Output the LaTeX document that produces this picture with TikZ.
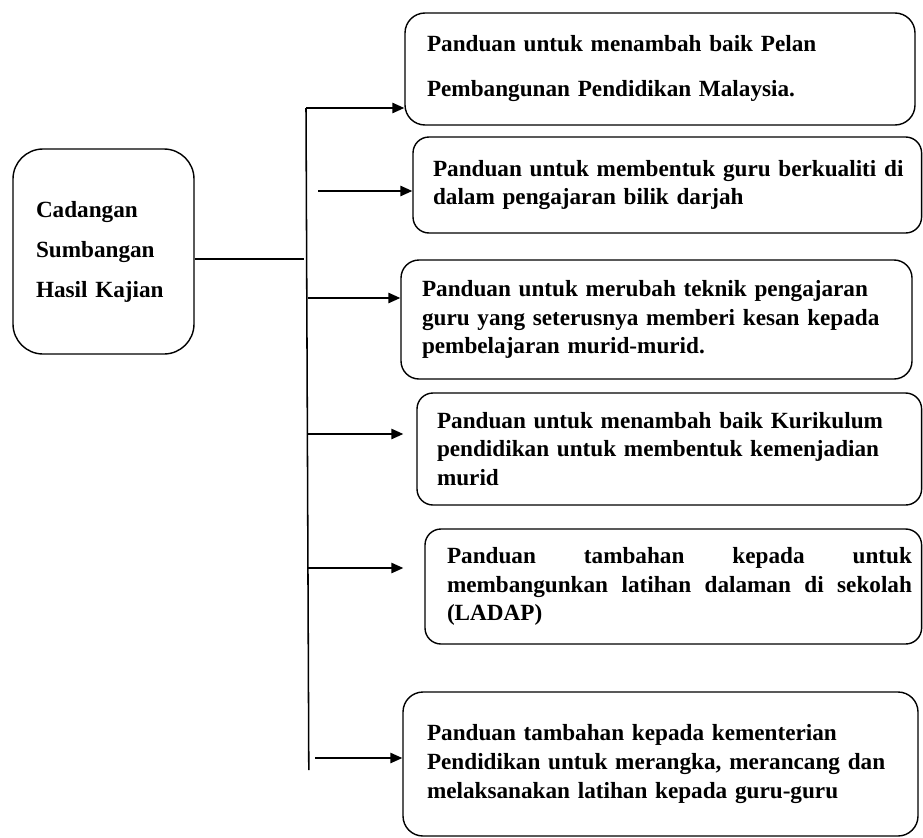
\documentclass[tikz,border=0pt]{standalone}
\usepackage{fontspec}
\setmainfont{Liberation Serif}
\usepackage{tikz}
\usetikzlibrary{arrows.meta,positioning}
\tikzset{
  cbox/.style={draw=black,fill=white,line width=1pt,align=left,inner ysep=0pt},
  carr/.style={-{Triangle[length=3mm,width=2.6mm]},line width=1.1pt,draw=black},
  cline/.style={line width=1.1pt,draw=black}
}
\newcommand{\txt}[1]{\bfseries\fontsize{16.5}{#1}\selectfont}

\begin{document}
\begin{tikzpicture}[font=\txt{20.3pt}]
  \useasboundingbox (0,0) rectangle (23.075,-20.925);
  \node[cbox,rounded corners=0.75cm,text width=3.375cm,inner xsep=0.575cm,minimum height=5.125cm,font=\txt{28.45pt}] (cad) at (2.5875,-6.2875) {Cadangan\\Sumbangan\\Hasil Kajian};
  \node[cbox,rounded corners=0.5cm,text width=11.65cm,inner xsep=0.55cm,minimum height=2.8cm,font=\txt{32pt}] (b1) at (16.5,-1.725) {Panduan untuk menambah baik Pelan\\Pembangunan Pendidikan Malaysia.};
  \node[cbox,rounded corners=0.4cm,text width=11.815cm,inner xsep=0.45cm,minimum height=2.4cm] (b2) at (16.6825,-4.625) {\hspace*{0.05cm}Panduan untuk membentuk guru berkualiti di\\\hspace*{0.05cm}dalam pengajaran bilik darjah};
  \node[cbox,rounded corners=0.45cm,text width=11.725cm,inner xsep=0.525cm,minimum height=2.975cm] (b3) at (16.4125,-7.9875) {Panduan untuk merubah teknik pengajaran\\guru yang seterusnya memberi kesan kepada\\pembelajaran murid-murid.};
  \node[cbox,rounded corners=0.4cm,text width=11.615cm,inner xsep=0.5cm,minimum height=2.8cm] (b4) at (16.7325,-11.225) {Panduan untuk menambah baik Kurikulum\\pendidikan untuk membentuk kemenjadian\\murid};
  \node[cbox,rounded corners=0.4cm,text width=11.935cm,inner xsep=0.24cm,minimum height=2.875cm] (b5) at (16.8325,-14.6625) {\hspace*{0.31cm}Panduan\hfill tambahan\hfill kepada\hfill untuk\\\hspace*{0.31cm}membangunkan\hfill latihan\hfill dalaman\hfill di\hfill sekolah\\\hspace*{0.31cm}(LADAP)};
  \node[cbox,rounded corners=0.5cm,text width=11.675cm,inner xsep=0.6cm,minimum height=3.6cm] (b6) at (16.5125,-19.1) {Panduan tambahan kepada kementerian\\Pendidikan untuk merangka, merancang dan\\melaksanakan latihan kepada guru-guru};
  % trunk
  \coordinate (jn) at (7.6,-6.475);
  \coordinate (ttop) at (7.65,-2.7);
  \coordinate (tbot) at (7.72,-19.25);
  \draw[cline] (cad.east |- jn) -- (jn);
  \draw[cline] (ttop) -- (tbot);
  % branches
  \coordinate (s1) at (7.65,-2.7);
  \coordinate (s2) at (7.95,-4.775);
  \coordinate (s3) at (7.7,-7.45);
  \coordinate (s4) at (7.7,-10.85);
  \coordinate (s5) at (7.7,-14.2);
  \coordinate (s6) at (7.875,-18.95);
  \draw[carr] (s1) -- (s1 -| b1.west);
  \draw[carr] (s2) -- (s2 -| b2.west);
  \draw[carr] (s3) -- (s3 -| b3.west);
  \draw[carr,shorten >=0.325cm] (s4) -- (s4 -| b4.west);
  \draw[carr,shorten >=0.525cm] (s5) -- (s5 -| b5.west);
  \draw[carr] (s6) -- (s6 -| b6.west);
\end{tikzpicture}
\end{document}
